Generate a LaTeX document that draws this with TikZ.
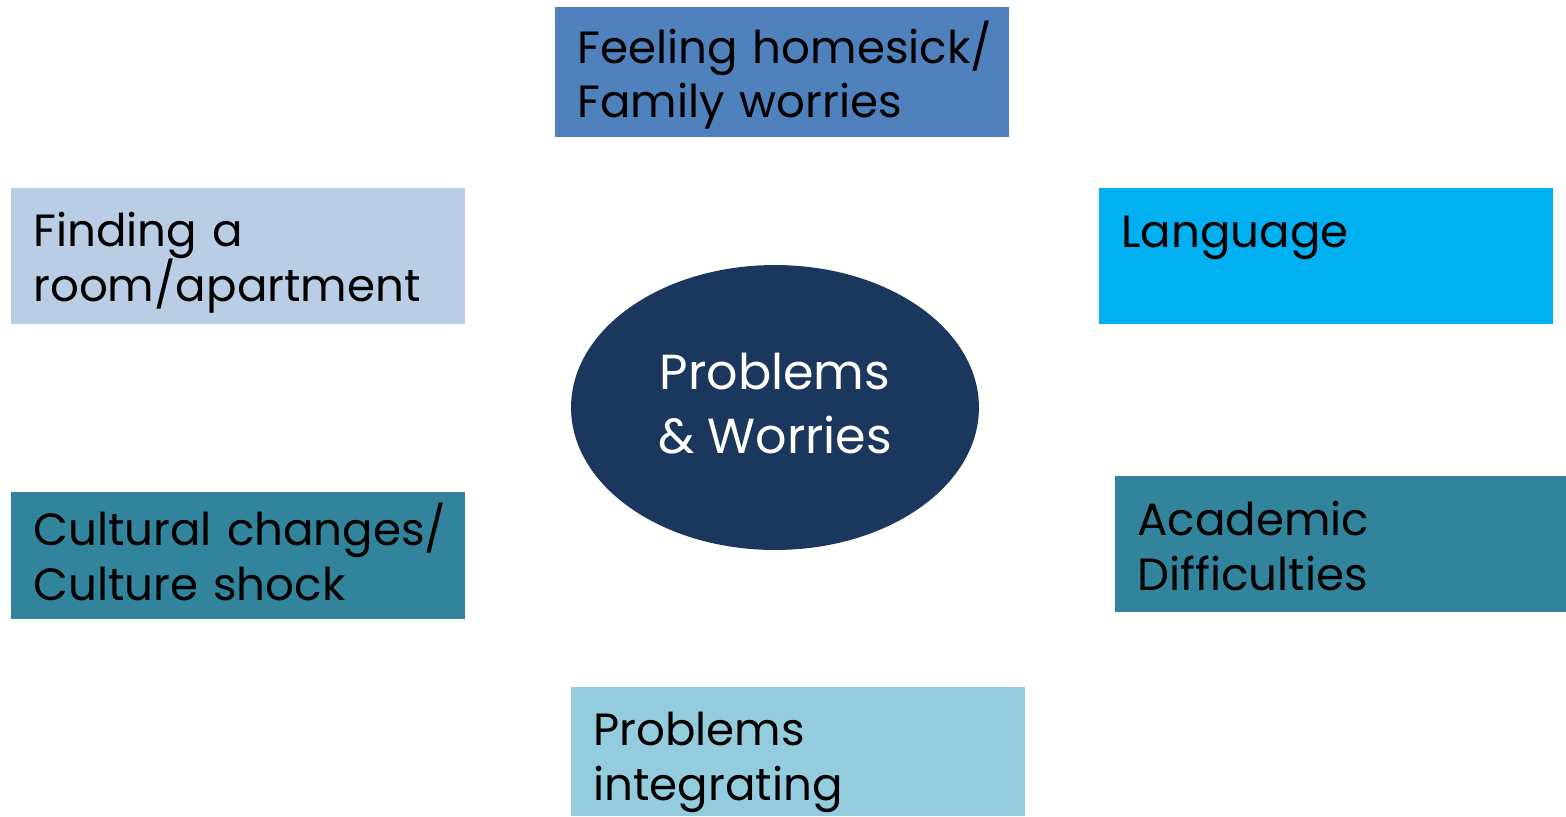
\documentclass[tikz,border=0pt]{standalone}
\usepackage{fontspec}
\setmainfont{Poppins}
\usetikzlibrary{shapes.geometric}
\hyphenpenalty=10000
\definecolor{homeblue}{HTML}{4F81BD}
\definecolor{roomblue}{HTML}{B9CDE5}
\definecolor{langblue}{HTML}{00B0F0}
\definecolor{cultureteal}{HTML}{31849B}
\definecolor{integblue}{HTML}{93CDDD}
\definecolor{hubnavy}{HTML}{1B375E}
\tikzset{
  topic/.style={anchor=base west, inner xsep=0.44cm, inner ysep=0pt, text width=8.2cm,
    align=left, font=\fontsize{25.7}{31.3}\selectfont},
  hub/.style={ellipse, fill=hubnavy, text=white, inner sep=0pt, minimum width=8.16cm,
    minimum height=5.7cm, align=center, font=\fontsize{28}{35.9}\selectfont}
}
\begin{document}
\begin{tikzpicture}[x=0.02cm, y=-0.02cm]
\useasboundingbox (0,0) rectangle (1566,816);
\node[hub, text height=2.62cm, text depth=0.8cm] (hub) at (775,407.5) {Problems\\\& Worries};
\node[topic, fill=homeblue, text height=1.12cm, text depth=1.48cm] (home) at (555,63) {Feeling~homesick/\\Family worries};
\node[topic, fill=roomblue, text height=1.16cm, text depth=1.56cm] (room) at (11,246) {Finding a\\room/apartment};
\node[topic, fill=langblue, text height=1.18cm, text depth=1.54cm] (lang) at (1099,247) {Language};
\node[topic, fill=cultureteal, text height=1.06cm, text depth=1.48cm] (culture) at (11,545) {Cultural~changes/\\Culture shock};
\node[topic, fill=cultureteal, text width=8.14cm, text height=1.18cm, text depth=1.54cm] (academic) at (1115,535) {Academic\\Difficulties};
\node[topic, fill=integblue, text height=1.16cm, text depth=1.42cm] (integ) at (571,745) {Problems\\integrating};
\end{tikzpicture}
\end{document}
